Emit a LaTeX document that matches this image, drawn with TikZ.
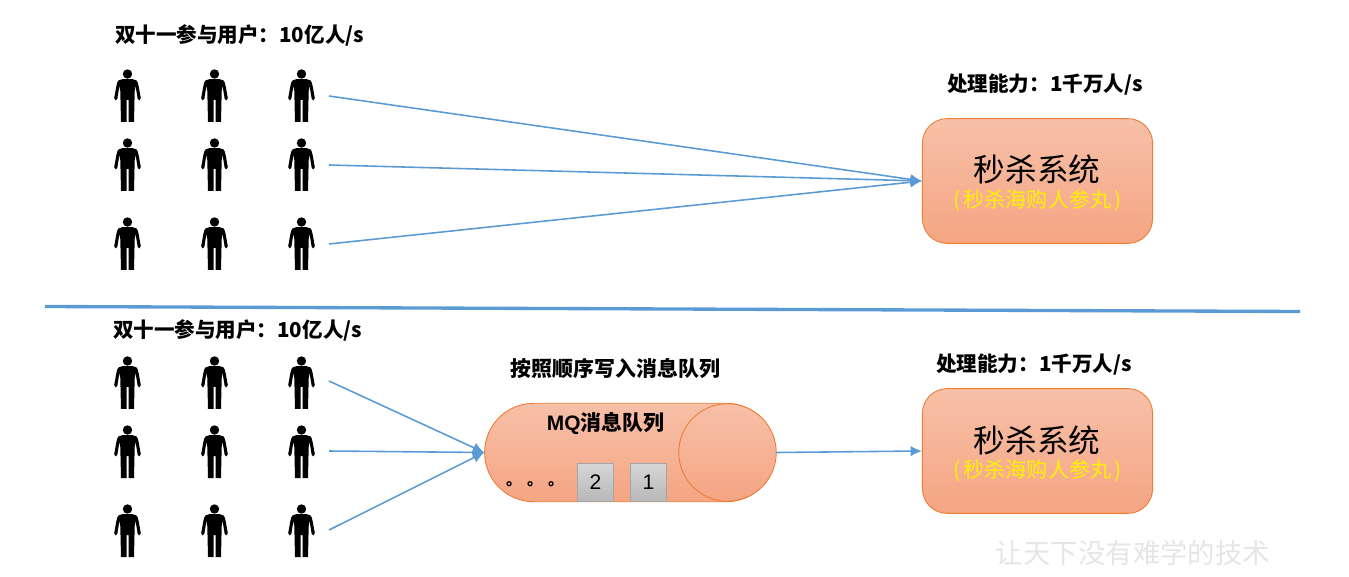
\documentclass[tikz,border=0pt]{standalone}
\usepackage{fontspec}
\setmainfont{Liberation Serif}
\newfontfamily\cjk{Noto Sans CJK SC}
\newfontfamily\arial{Liberation Sans}
\usetikzlibrary{arrows.meta}
\definecolor{linkblue}{HTML}{5B9BD5}
\definecolor{boxedge}{HTML}{ED7D31}
\definecolor{F7top}{HTML}{F7C0A8}
\definecolor{F7bot}{HTML}{F5A583}
\tikzset{
	flow/.style={draw=linkblue, line width=0.9pt, -{Latex[length=6.5pt,width=6pt]}},
	system/.style={draw=boxedge, line width=0.5pt, top color=F7top, bottom color=F7bot, rounded corners=14pt, minimum width=131pt, minimum height=71pt, inner sep=0pt},
	capline/.style={font=\cjk\bfseries\fontsize{11.7pt}{14pt}\selectfont, inner sep=0pt},
	sysname/.style={font=\cjk\fontsize{18pt}{20pt}\selectfont, inner sep=0pt},
	syssub/.style={font=\cjk\fontsize{12pt}{14pt}\selectfont, text=yellow, inner sep=0pt},
	msg/.style={draw=black!35, line width=0.8pt, top color=black!16, bottom color=black!28, minimum width=20.5pt, minimum height=21.5pt, inner sep=0pt, font=\arial\fontsize{12pt}{14pt}\selectfont},
	person/.pic={
		\fill (0,5) circle (4.7);
		\fill (0,10) .. controls (4,10) and (7,10) .. (9,11.5) .. controls (11,13) and (11.5,20) .. (13.3,29)
			.. controls (13.6,31.5) and (10.5,32.5) .. (10.2,30) -- (8,16.5) -- (7.2,22) -- (6.5,53) -- (1,53) -- (1,31) -- (-1,31) -- (-1,53) -- (-6.5,53) -- (-7.2,22) -- (-8,16.5) -- (-10.2,30)
			.. controls (-10.5,32.5) and (-13.6,31.5) .. (-13.3,29) .. controls (-11.5,20) and (-11,13) .. (-9,11.5) .. controls (-7,10) and (-4,10) .. (0,10) -- cycle;
	},
}
\newcommand{\mixline}[2]{{\cjk #1}#2}

\begin{document}
\begin{tikzpicture}[x=0.02cm, y=-0.02cm]
	%%%%% START %%%%%
	\useasboundingbox (0,0) rectangle (1349,577);

	% users
	\foreach \px in {127.5,214.5,301.5}
		\foreach \py in {69,138,217,356,425,504}
			\pic at (\px,\py) {person};

	% top half
	\node[capline] (usersA) at (239.5,35) {\mixline{双十一参与用户：}{10}\mixline{亿人}{/s}};
	\node[capline] (rateA) at (1045,85) {\mixline{处理能力：}{1}\mixline{千万人}{/s}};
	\node[system] (sysA) at (1037.5,181) {};
	\node[sysname] (nameA) at (1037,169) {秒杀系统};
	\node[syssub] (subA) at (1037.5,201) {(\,秒杀海购人参丸\,)};

	\coordinate (fromA) at (329,96);
	\coordinate (fromB) at (329,165);
	\coordinate (fromC) at (329,244);
	\draw[flow] (fromA) -- (sysA.west);
	\draw[flow] (fromB) -- (sysA.west);
	\draw[flow] (fromC) -- (sysA.west);

	% divider
	\coordinate (cutL) at (45,306.5);
	\coordinate (cutR) at (1300,311.5);
	\draw[linkblue, line width=1.9pt] (cutL) -- (cutR);

	% bottom half
	\node[capline] (usersB) at (237.5,330) {\mixline{双十一参与用户：}{10}\mixline{亿人}{/s}};
	\node[capline] (rateB) at (1034,365) {\mixline{处理能力：}{1}\mixline{千万人}{/s}};
	\node[capline, font=\cjk\bfseries\fontsize{11.9pt}{14pt}\selectfont] (order) at (615.5,369) {按照顺序写入消息队列};
	\node[system] (sysB) at (1037.5,451) {};
	\node[sysname] (nameB) at (1037,440) {秒杀系统};
	\node[syssub] (subB) at (1037.5,471) {(\,秒杀海购人参丸\,)};

	% queue
	\node[system, minimum width=165.5pt, minimum height=56pt, rounded corners=27.9pt] (mq) at (630,452.5) {};
	\node[circle, draw=boxedge, line width=0.5pt, top color=F7top, bottom color=F7bot, minimum size=55.5pt, inner sep=0pt] (mqend) at (727.5,452.5) {};
	\node[capline, font=\arial\bfseries\fontsize{11.9pt}{14pt}\selectfont] (mqname) at (605.5,423.5) {MQ{\cjk 消息队列}};
	\node[msg] (msgB) at (595.5,482.5) {2};
	\node[msg] (msgA) at (648.5,482.5) {1};
	\node[capline, font=\cjk\bfseries\fontsize{9pt}{11pt}\selectfont] (more) at (535,484) {。\hspace{3pt}。\hspace{3pt}。};

	\coordinate (fromD) at (329,381);
	\coordinate (fromE) at (329,451);
	\coordinate (fromF) at (329,530);
	\draw[flow] (fromD) -- (mq.west);
	\draw[flow] (fromE) -- (mq.west);
	\draw[flow] (fromF) -- (mq.west);
	\draw[flow] (mq.east) -- (sysB.west);

	% watermark
	\node[font=\cjk\fontsize{15.6pt}{18pt}\selectfont, text=black!10, inner sep=0pt] (mark) at (1133,553) {让天下没有难学的技术};
	%%%%% END %%%%%
\end{tikzpicture}
\end{document}
